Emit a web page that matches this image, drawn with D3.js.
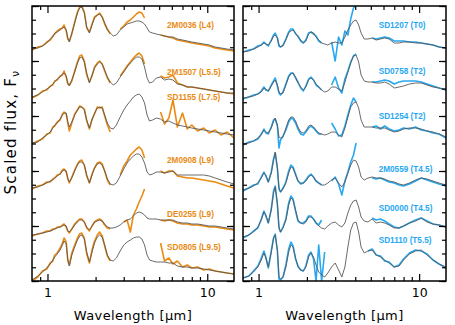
<!DOCTYPE html>
<html>
<head>
<meta charset="utf-8">
<script src="https://cdn.jsdelivr.net/npm/d3@7"></script>
<style>
  body { margin: 0; background: #fff; }
  svg text { font-family: "DejaVu Sans", "Liberation Sans", sans-serif; }
</style>
</head>
<body>
<svg id="chart" width="455" height="325"></svg>
<script>
// wavelength grid (micron), shared by every spectrum
const wavelengths = [0.80, 0.87, 0.93, 0.99, 1.04, 1.08, 1.11, 1.15, 1.20, 1.24,
    1.27, 1.31, 1.34, 1.37, 1.42, 1.48, 1.54, 1.59, 1.64, 1.70,
    1.76, 1.83, 1.90, 1.97, 2.05, 2.12, 2.20, 2.28, 2.37, 2.47,
    2.58, 2.70, 2.85, 3.00, 3.15, 3.30, 3.45, 3.60, 3.75, 3.90,
    4.05, 4.20, 4.35, 4.55, 4.80, 5.10, 5.40, 5.75, 6.10, 6.50,
    7.00, 7.50, 8.00, 8.70, 9.50, 10.3, 11.2, 12.2, 13.3, 14.7];

// scaled flux (offset included), model = m..., observed = d...
const m2M0036 = [23.2, 23.3, 23.5, 23.8, 24.2, 24.4, 24.8, 24.9, 25.1, 25.3,
    25.4, 25.1, 24.3, 23.9, 24.8, 25.8, 26.8, 27.3, 27.4, 26.8,
    25.4, 24.8, 25.6, 26.3, 26.6, 26.7, 26.4, 25.8, 25.1, 24.8,
    24.5, 24.6, 25.1, 25.4, 25.7, 25.8, 25.9, 26.0, 26.0, 25.9,
    25.7, 25.3, 24.9, 24.8, 24.7, 24.6, 24.5, 24.4, 24.4, 24.2,
    24.1, 24.0, 23.9, 23.8, 23.7, 23.6, 23.4, 23.3, 23.2, 23.1];
const d2M0036 = [23.1, 23.4, 23.5, 23.9, 24.1, 24.5, 24.7, 25.0, 25.2, 25.3,
    25.6, 25.0, 24.2, 24.0, 24.7, 25.9, 26.9, 27.4, 27.5, 26.9,
    25.3, 24.9, 25.7, 26.4, 26.6, 26.8, 26.4, 25.7, 25.2, 24.7,
    null, null, 25.2, 25.5, 25.9, 26.1, 26.4, 26.7, 26.9, 26.8,
    26.3, null, null, null, null, 24.6, 24.5, 24.4, 24.3, 24.1,
    24.0, 23.9, 23.8, 23.7, 23.6, 23.5, 23.3, 23.2, 23.1, 23.0];

const m2M1507 = [18.4, 18.6, 18.9, 19.2, 19.4, 19.7, 19.9, 20.2, 20.4, 20.7,
    20.8, 20.5, 19.8, 19.5, 20.1, 20.9, 21.8, 22.3, 22.4, 21.9,
    20.8, 19.8, 20.6, 21.3, 21.7, 21.9, 21.7, 21.1, 20.4, 19.9,
    19.6, 19.8, 20.4, 20.9, 21.4, 21.8, 22.1, 22.4, 22.4, 22.2,
    21.4, 20.3, 19.8, 19.9, 20.3, 20.4, 20.1, 20.2, 20.1, 19.7,
    19.6, 19.4, 19.4, 19.3, 19.2, 19.1, 19.0, 18.9, 18.8, 18.8];
const d2M1507 = [18.3, 18.6, 19.0, 19.1, 19.5, 19.6, 20.0, 20.1, 20.5, 20.6,
    21.0, 20.4, 19.7, 19.6, 20.0, 21.0, 21.9, 22.5, 22.6, 22.0,
    20.6, 19.9, 20.5, 21.4, 21.8, 22.0, 21.7, 21.0, 20.3, 19.8,
    null, null, 20.5, 21.0, 21.5, 21.9, 22.3, 22.6, 22.8, 22.5,
    21.7, null, null, null, null, 20.5, 20.3, 20.4, 20.6, 19.8,
    19.6, 19.4, 19.4, 19.3, 19.2, 19.1, 19.0, 18.9, 18.8, 18.7];

const mSD1155 = [13.8, 13.9, 14.3, 14.6, 14.9, 15.3, 15.6, 15.8, 16.2, 16.6,
    16.8, 16.8, 15.9, 15.4, 15.9, 16.6, 17.1, 17.4, 17.4, 17.1,
    16.1, 15.3, 16.1, 16.8, 17.3, 17.4, 17.3, 16.6, 15.8, 15.3,
    15.2, 15.6, 16.4, 17.1, 17.6, 18.0, 18.4, 18.6, 18.7, 18.4,
    17.8, 16.6, 16.0, 16.1, 16.3, 16.2, 15.9, 16.0, 15.8, 15.6,
    15.5, 15.4, 15.3, 15.2, 15.1, 15.0, 14.9, 14.8, 14.7, 14.6];
const dSD1155 = [13.7, 14.0, 14.2, 14.7, 14.8, 15.4, 15.5, 15.9, 16.1, 16.7,
    16.9, 16.7, 15.8, 15.0, 15.8, 16.7, 17.1, 17.5, 17.4, 17.2,
    16.0, 15.2, 16.2, 16.7, 17.4, 17.3, 17.4, 16.5, 15.6, 14.9,
    null, null, null, null, null, null, null, null, null, null,
    null, null, null, null, null, 16.9, 15.7, 16.3, 18.1, 15.4,
    16.8, 15.2, 15.6, 15.0, 15.3, 14.8, 15.1, 14.6, 14.9, 14.3];

const m2M0908 = [9.3, 9.4, 9.6, 9.8, 10.0, 10.1, 10.3, 10.5, 10.7, 11.0,
    11.1, 11.0, 10.3, 9.9, 10.3, 11.0, 11.6, 11.9, 11.9, 11.6,
    10.6, 9.8, 10.6, 11.3, 11.7, 11.8, 11.6, 11.0, 10.2, 9.7,
    9.6, 9.8, 10.5, 11.2, 11.8, 12.2, 12.5, 12.7, 12.7, 12.4,
    11.8, 10.9, 10.6, 10.7, 10.9, 10.9, 10.8, 10.9, 11.0, 10.6,
    10.6, 10.6, 10.6, 10.6, 10.6, 10.5, 10.3, 10.1, 9.9, 9.7];
const d2M0908 = [9.2, 9.5, 9.6, 9.9, 9.9, 10.2, 10.3, 10.6, 10.7, 11.1,
    11.2, 10.9, 10.2, 9.8, 10.4, 11.1, 11.7, 12.0, 12.1, 11.6,
    10.5, 9.8, 10.7, 11.3, 11.8, 11.9, 11.7, 11.0, 10.1, 9.6,
    null, null, 10.6, 11.5, 12.0, 12.6, 12.9, 13.2, 13.4, 13.1,
    12.3, null, null, null, null, 11.0, 10.8, 11.0, 11.0, 10.5,
    10.4, 10.3, 10.3, 10.2, 10.1, 10.0, 9.9, 9.7, 9.5, 9.3];

const mDE0255 = [4.6, 4.7, 4.8, 4.9, 5.0, 5.1, 5.2, 5.3, 5.4, 5.5,
    5.6, 5.5, 5.0, 4.9, 5.2, 5.6, 5.9, 6.1, 6.1, 5.9,
    5.4, 5.1, 5.5, 5.9, 6.0, 6.1, 6.0, 5.7, 5.4, 5.3,
    5.3, 5.4, 5.6, 5.9, 6.1, 6.2, 6.5, 6.8, 6.9, 6.8,
    6.6, 6.3, 6.2, 6.2, 6.2, 6.1, 6.1, 6.1, 6.1, 5.9,
    5.8, 5.8, 5.7, 5.7, 5.6, 5.5, 5.5, 5.4, 5.3, 5.2];
const dDE0255 = [4.5, 4.7, 4.8, 5.0, 5.0, 5.2, 5.2, 5.4, 5.4, 5.6,
    5.7, 5.4, 5.0, 4.8, 5.2, 5.7, 6.0, 6.2, 6.2, 5.9,
    5.3, 5.0, 5.5, 5.9, 6.1, 6.2, 6.0, 5.6, 5.3, 5.2,
    null, null, null, 5.9, 6.1, 4.9, 6.6, 7.2, 7.9, 8.5,
    9.2, null, null, null, null, 6.1, 6.0, 6.1, 6.0, 5.8,
    5.7, 5.7, 5.6, 5.6, 5.5, 5.4, 5.4, 5.3, 5.2, 5.1];

const mSD0805 = [0.1, 0.5, 0.9, 1.3, 1.7, 2.1, 2.4, 2.7, 3.1, 3.6,
    4.0, 3.7, 2.2, 1.5, 2.6, 3.4, 4.1, 4.5, 4.6, 4.2,
    2.9, 1.9, 2.9, 3.8, 4.4, 4.6, 4.4, 3.6, 2.6, 2.1,
    2.0, 2.3, 3.0, 3.6, 3.9, 4.1, 4.3, 4.4, 4.4, 4.2,
    3.6, 2.6, 2.1, 2.0, 1.9, 1.9, 1.9, 1.8, 1.8, 1.5,
    1.4, 1.4, 1.3, 1.3, 1.2, 1.1, 1.0, 0.9, 0.8, 0.7];
const dSD0805 = [0.0, 0.4, 1.0, 1.2, 1.8, 2.0, 2.6, 2.8, 3.3, 3.8,
    4.3, 3.9, 2.0, 1.6, 2.8, 3.6, 4.3, 4.7, 4.8, 4.3,
    2.7, 1.8, 3.1, 4.0, 4.6, 4.9, 4.5, 3.5, 2.5, 2.0,
    null, null, null, null, null, null, null, null, null, null,
    null, null, null, null, null, 3.8, 2.0, 2.3, 1.7, 2.0,
    1.4, 1.6, 1.3, 1.4, 1.1, 1.2, 1.0, 0.9, 0.8, 0.7];

const mSD1207 = [22.9, 23.0, 23.2, 23.4, 23.6, 23.8, 23.7, 23.6, 24.0, 24.5,
    24.6, 24.3, 23.6, 23.4, 23.5, 24.1, 24.8, 25.0, 25.1, 24.8,
    24.4, 24.1, 23.8, 24.0, 24.7, 24.9, 24.8, 24.4, 24.1, 23.8,
    23.7, 23.6, 23.8, 23.9, 23.8, 23.8, 24.4, 25.1, 25.6, 26.0,
    26.1, 25.6, 24.8, 24.2, 24.2, 24.3, 24.1, 24.2, 24.3, 24.2,
    23.8, 23.8, 23.9, 23.9, 23.8, 23.8, 23.7, 23.6, 23.4, 23.3];
const dSD1207 = [22.9, 23.1, 23.2, 23.5, 23.6, 23.9, 23.7, 23.5, 24.1, 24.6,
    24.8, 24.3, 23.5, 23.4, 23.6, 24.2, 24.9, 25.2, 25.2, 24.7,
    24.5, 24.0, 23.8, 24.1, 24.8, 24.9, 24.7, 24.5, 24.0, 23.8,
    null, null, 23.9, 22.0, 24.4, 23.6, 25.0, 24.6, 26.2, 27.3,
    27.6, null, null, null, null, 24.3, 24.2, 24.3, 24.4, 24.3,
    24.0, 24.0, 24.0, 23.9, 23.9, 23.8, 23.7, 23.6, 23.4, 23.3];

const mSD0758 = [18.3, 18.4, 18.5, 18.7, 18.9, 19.3, 19.2, 19.0, 19.5, 19.9,
    20.1, 19.6, 18.9, 18.7, 18.8, 19.6, 20.4, 20.7, 20.8, 20.4,
    19.8, 19.4, 19.1, 19.4, 20.1, 20.3, 20.1, 19.7, 19.4, 19.1,
    18.9, 19.0, 19.4, 19.4, 19.2, 19.0, 19.9, 20.9, 21.8, 22.5,
    22.6, 21.9, 20.6, 20.0, 19.9, 19.9, 19.8, 19.8, 19.9, 19.7,
    19.3, 19.4, 19.5, 19.7, 19.8, 19.8, 19.6, 19.4, 19.3, 19.1];
const dSD0758 = [18.2, 18.4, 18.6, 18.7, 19.0, 19.4, 19.1, 19.0, 19.6, 20.0,
    20.3, 19.5, 18.8, 18.6, 18.9, 19.7, 20.5, 20.8, 20.8, 20.3,
    19.9, 19.3, 19.0, 19.5, 20.2, 20.4, 20.1, 19.6, 19.4, 19.1,
    null, null, 19.6, 20.4, 19.3, 18.8, 20.2, 21.0, 21.9, 22.5,
    22.7, null, null, null, null, 19.9, 19.9, 20.0, 20.1, 20.0,
    19.7, 19.9, 20.0, 20.0, 20.0, 19.9, 19.7, 19.5, 19.3, 19.1];

const mSD1254 = [13.7, 13.8, 14.0, 14.3, 14.6, 15.1, 14.9, 14.8, 15.3, 16.0,
    16.3, 15.6, 14.4, 14.3, 14.4, 15.3, 16.1, 16.4, 16.4, 16.0,
    15.4, 14.9, 14.8, 15.0, 15.5, 15.6, 15.4, 15.1, 14.8, 14.7,
    14.6, 14.7, 14.9, 14.9, 14.6, 14.4, 15.3, 16.4, 17.4, 17.8,
    17.9, 17.3, 16.1, 15.4, 15.4, 15.4, 15.3, 15.3, 15.3, 15.1,
    14.9, 15.0, 15.2, 15.3, 15.3, 15.2, 15.0, 14.9, 14.7, 14.4];
const dSD1254 = [13.6, 13.9, 14.0, 14.2, 14.7, 15.2, 14.8, 14.7, 15.4, 16.1,
    16.2, 15.5, 13.3, 14.1, 14.5, 15.1, 15.9, 16.3, 16.2, 15.8,
    15.2, 14.7, 14.6, 14.9, 15.3, 15.5, 15.3, 15.0, 14.7, 14.7,
    null, null, 15.8, 15.2, 14.5, 14.6, 15.5, 16.6, 17.6, 18.3,
    17.9, null, null, null, null, 15.4, 15.5, 15.2, 15.5, 15.2,
    15.0, 15.1, 15.3, 15.2, 15.4, 15.1, 15.0, 14.8, 14.7, 14.3];

const m2M0559 = [9.1, 9.3, 9.5, 9.8, 10.3, 10.8, 10.6, 9.9, 10.8, 12.1,
    12.9, 11.4, 9.3, 8.9, 9.2, 9.8, 10.8, 11.4, 11.3, 10.6,
    10.0, 9.8, 9.8, 10.0, 10.4, 10.6, 10.4, 10.0, 9.8, 9.6,
    9.6, 9.8, 10.1, 10.3, 9.8, 9.4, 9.9, 10.8, 11.6, 12.1,
    12.0, 11.4, 10.4, 10.1, 10.3, 10.4, 10.3, 10.3, 10.2, 10.0,
    9.9, 9.7, 9.6, 9.8, 10.1, 10.3, 10.2, 10.0, 9.8, 9.6];
const d2M0559 = [9.0, 9.3, 9.6, 9.7, 10.4, 10.9, 10.5, 9.9, 10.9, 12.2,
    12.8, 11.2, 9.2, 8.9, 9.3, 9.9, 11.0, 11.6, 11.4, 10.7,
    10.0, 9.7, 9.8, 10.1, 10.5, 10.7, 10.4, 10.0, 9.8, 9.6,
    null, null, 10.0, 10.4, 9.7, 8.6, 10.0, 10.9, 11.9, 12.6,
    13.8, null, null, null, null, 10.3, 10.2, 10.3, 10.1, 9.9,
    9.8, 9.6, 9.5, 9.7, 10.0, 10.3, 10.1, 9.9, 9.7, 9.5];

const mSD0000 = [4.4, 4.6, 4.9, 5.4, 6.1, 6.9, 6.6, 5.8, 7.1, 8.8,
    9.4, 7.8, 5.4, 4.9, 5.3, 6.1, 7.6, 8.3, 8.1, 7.1,
    6.1, 5.8, 5.7, 5.9, 6.4, 6.4, 6.2, 5.8, 5.5, 5.3,
    5.2, 5.5, 5.8, 5.9, 5.6, 5.4, 5.8, 6.8, 7.6, 8.0,
    8.1, 7.4, 6.4, 6.0, 5.9, 6.2, 5.8, 5.9, 5.8, 5.6,
    5.3, 5.3, 5.5, 5.8, 6.0, 6.3, 5.9, 5.7, 5.6, 5.4];
const dSD0000 = [4.3, 4.6, 5.0, 5.3, 6.2, 7.0, 6.5, 5.8, 7.2, 9.0,
    9.5, 7.6, 5.3, 4.9, 5.4, 6.2, 7.8, 8.5, 8.2, 7.0,
    6.0, 5.8, 5.8, 6.0, 6.5, 6.5, 6.2, 5.8, 5.6, 6.1,
    null, null, null, null, null, null, null, null, null, null,
    null, null, null, null, null, 6.3, 6.1, 6.2, 6.0, 5.7,
    5.4, 5.3, 5.5, 5.8, 6.1, 6.3, 6.0, 5.7, 5.6, 5.4];

const mSD1110 = [0.3, 0.5, 0.9, 1.4, 2.1, 2.8, 2.3, 1.4, 2.9, 4.3,
    4.6, 3.1, 0.4, 0.2, 0.4, 1.4, 2.9, 3.6, 3.4, 2.3,
    1.4, 1.1, 1.0, 1.4, 2.4, 2.8, 2.4, 1.6, 0.9, 0.6,
    0.4, 0.8, 1.4, 1.8, 1.1, 0.4, 1.4, 3.4, 5.1, 5.8,
    5.9, 4.9, 3.4, 2.8, 3.0, 3.1, 2.6, 2.4, 2.1, 1.8,
    1.4, 1.5, 2.1, 2.7, 3.0, 3.1, 2.6, 2.1, 1.7, 1.4];
const dSD1110 = [0.3, 0.5, 1.0, 1.5, 2.3, 3.0, 2.4, 1.3, 3.0, 4.3,
    4.7, 3.0, 0.2, 0.1, 0.4, 1.6, 3.2, 3.9, 3.5, 2.2,
    1.5, 1.1, 1.0, 1.5, 2.6, 2.9, 2.2, 0.0, 3.6, 0.0,
    2.9, null, null, null, null, null, null, null, null, null,
    null, null, null, null, 3.0, 3.2, 2.6, 2.5, 2.0, 1.9,
    1.4, 1.6, 2.2, 2.8, 3.1, 3.0, 2.7, 2.1, 1.7, 1.3];

const lNames = ["2M0036 (L4)", "2M1507 (L5.5)", "SD1155 (L7.5)", "2M0908 (L9)", "DE0255 (L9)", "SD0805 (L9.5)"];
const tNames = ["SD1207 (T0)", "SD0758 (T2)", "SD1254 (T2)", "2M0559 (T4.5)", "SD0000 (T4.5)", "SD1110 (T5.5)"];
const lModels = [m2M0036, m2M1507, mSD1155, m2M0908, mDE0255, mSD0805];
const lObserved = [d2M0036, d2M1507, dSD1155, d2M0908, dDE0255, dSD0805];
const tModels = [mSD1207, mSD0758, mSD1254, m2M0559, mSD0000, mSD1110];
const tObserved = [dSD1207, dSD0758, dSD1254, d2M0559, dSD0000, dSD1110];
const xMajor = [1, 10];
const xMinor = [0.9, 2, 3, 4, 5, 6, 7, 8, 9];

// layout
const svg = d3.select("#chart"),
    plotTop = 6,
    plotBottom = 281,
    labelWave = 5.6,
    lLabelFlux = [25.3, 20.6, 18.1, 11.8, 6.4, 3.1],
    tLabelFlux = [25.3, 20.7, 16.2, 10.9, 7.0, 3.8];

const panels = [
    { left: 32, right: 234, color: "#ea8b14", names: lNames, models: lModels, observed: lObserved, labels: lLabelFlux },
    { left: 243, right: 446, color: "#27a8f2", names: tNames, models: tModels, observed: tObserved, labels: tLabelFlux }
];

const y = d3.scaleLinear().domain([0, 27.5]).range([plotBottom, plotTop]);
const yMajor = d3.range(0, 27.6, 5.5),
    yMinor = d3.range(0, 27.6, 1.375);

panels.forEach(function (p, k) {
    const x = d3.scaleLog().domain([0.8, 14.7]).range([p.left, p.right]);
    const g = svg.append("g");

    svg.append("clipPath").attr("id", "clip" + k)
        .append("rect")
        .attr("x", p.left).attr("y", plotTop)
        .attr("width", p.right - p.left).attr("height", plotBottom - plotTop);

    const line = d3.line()
        .defined(function (d) { return d[1] !== null; })
        .x(function (d) { return x(d[0]); })
        .y(function (d) { return y(d[1]); });

    const spectra = g.append("g").attr("clip-path", "url(#clip" + k + ")");

    // observed spectra below, models on top
    p.observed.forEach(function (vals) {
        spectra.append("path")
            .datum(wavelengths.map(function (w, i) { return [w, vals[i]]; }))
            .attr("fill", "none")
            .attr("stroke", p.color)
            .attr("stroke-width", 1.6)
            .attr("stroke-linejoin", "round")
            .attr("d", line);
    });
    p.models.forEach(function (vals) {
        spectra.append("path")
            .datum(wavelengths.map(function (w, i) { return [w, vals[i]]; }))
            .attr("fill", "none")
            .attr("stroke", "#595959")
            .attr("stroke-width", 0.9)
            .attr("stroke-linejoin", "round")
            .attr("d", line);
    });

    g.selectAll("text.label")
        .data(p.names)
        .enter()
        .append("text")
        .attr("class", "label")
        .attr("x", x(labelWave))
        .attr("y", function (d, i) { return y(p.labels[i]); })
        .attr("fill", p.color)
        .style("font-family", "\"Liberation Sans\", Arial, sans-serif")
        .style("font-weight", "bold")
        .style("font-size", "8.2px")
        .text(function (d) { return d; });

    // axes, ticks point inward
    g.append("g").attr("transform", "translate(0," + plotBottom + ")")
        .call(d3.axisBottom(x).tickValues(xMajor).tickSize(-7).tickPadding(7).tickFormat(d3.format("d")));
    g.append("g").attr("transform", "translate(0," + plotBottom + ")")
        .call(d3.axisBottom(x).tickValues(xMinor).tickSize(-4).tickFormat(""));
    g.append("g").attr("transform", "translate(0," + plotTop + ")")
        .call(d3.axisTop(x).tickValues(xMajor).tickSize(-7).tickFormat(""));
    g.append("g").attr("transform", "translate(0," + plotTop + ")")
        .call(d3.axisTop(x).tickValues(xMinor).tickSize(-4).tickFormat(""));
    g.append("g").attr("transform", "translate(" + p.left + ",0)")
        .call(d3.axisLeft(y).tickValues(yMajor).tickSize(-7).tickFormat(""));
    g.append("g").attr("transform", "translate(" + p.left + ",0)")
        .call(d3.axisLeft(y).tickValues(yMinor).tickSize(-4).tickFormat(""));
    g.append("g").attr("transform", "translate(" + p.right + ",0)")
        .call(d3.axisRight(y).tickValues(yMajor).tickSize(-7).tickFormat(""));
    g.append("g").attr("transform", "translate(" + p.right + ",0)")
        .call(d3.axisRight(y).tickValues(yMinor).tickSize(-4).tickFormat(""));

    g.selectAll(".domain").remove();
    g.selectAll(".tick line").attr("stroke", "#000").attr("stroke-width", 1.2);
    g.selectAll(".tick text")
        .attr("fill", "#000")
        .style("font-size", "12.5px")
        .style("font-family", "\"DejaVu Sans\", sans-serif");

    g.append("rect")
        .attr("x", p.left).attr("y", plotTop)
        .attr("width", p.right - p.left).attr("height", plotBottom - plotTop)
        .attr("fill", "none")
        .attr("stroke", "#000")
        .attr("stroke-width", 1.5);

    g.append("text")
        .attr("x", (p.left + p.right) / 2)
        .attr("y", 320)
        .attr("text-anchor", "middle")
        .style("font-size", "13px")
        .style("letter-spacing", "0.4px")
        .text("Wavelength [\u03bcm]");
});

const yTitle = svg.append("text")
    .attr("transform", "translate(16,132) rotate(-90)")
    .attr("text-anchor", "middle")
    .style("font-size", "15px")
    .style("letter-spacing", "1.2px");
yTitle.append("tspan").text("Scaled flux, F");
yTitle.append("tspan")
    .attr("dy", 3)
    .style("font-size", "11px")
    .text("\u03bd");
</script>
</body>
</html>
